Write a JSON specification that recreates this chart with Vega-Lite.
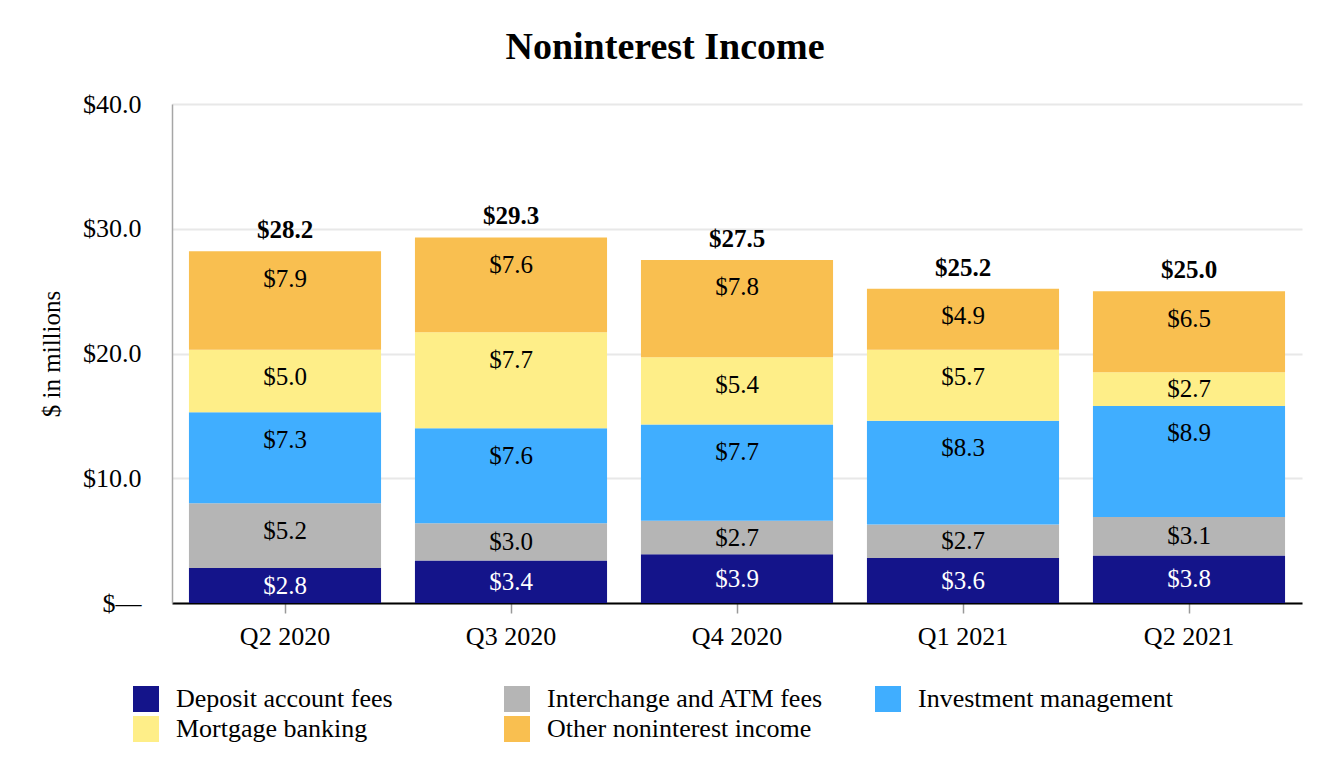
{
  "$schema": "https://vega.github.io/schema/vega-lite/v6.json",
  "autosize": "none",
  "width": 1130,
  "height": 499,
  "padding": {"left": 172, "top": 104, "right": 30, "bottom": 181},
  "background": "white",
  "title": {
    "text": "Noninterest Income",
    "fontSize": 38,
    "fontWeight": "bold",
    "font": "Liberation Serif",
    "color": "black",
    "baseline": "alphabetic",
    "offset": -6,
    "dx": -72
  },
  "data": {
    "values": [
      {"q": "Q2 2020", "cat": "Deposit account fees", "k": 1, "v": 2.8},
      {"q": "Q2 2020", "cat": "Interchange and ATM fees", "k": 2, "v": 5.2},
      {"q": "Q2 2020", "cat": "Investment management", "k": 3, "v": 7.3},
      {"q": "Q2 2020", "cat": "Mortgage banking", "k": 4, "v": 5.0},
      {"q": "Q2 2020", "cat": "Other noninterest income", "k": 5, "v": 7.9},
      {"q": "Q3 2020", "cat": "Deposit account fees", "k": 1, "v": 3.4},
      {"q": "Q3 2020", "cat": "Interchange and ATM fees", "k": 2, "v": 3.0},
      {"q": "Q3 2020", "cat": "Investment management", "k": 3, "v": 7.6},
      {"q": "Q3 2020", "cat": "Mortgage banking", "k": 4, "v": 7.7},
      {"q": "Q3 2020", "cat": "Other noninterest income", "k": 5, "v": 7.6},
      {"q": "Q4 2020", "cat": "Deposit account fees", "k": 1, "v": 3.9},
      {"q": "Q4 2020", "cat": "Interchange and ATM fees", "k": 2, "v": 2.7},
      {"q": "Q4 2020", "cat": "Investment management", "k": 3, "v": 7.7},
      {"q": "Q4 2020", "cat": "Mortgage banking", "k": 4, "v": 5.4},
      {"q": "Q4 2020", "cat": "Other noninterest income", "k": 5, "v": 7.8},
      {"q": "Q1 2021", "cat": "Deposit account fees", "k": 1, "v": 3.6},
      {"q": "Q1 2021", "cat": "Interchange and ATM fees", "k": 2, "v": 2.7},
      {"q": "Q1 2021", "cat": "Investment management", "k": 3, "v": 8.3},
      {"q": "Q1 2021", "cat": "Mortgage banking", "k": 4, "v": 5.7},
      {"q": "Q1 2021", "cat": "Other noninterest income", "k": 5, "v": 4.9},
      {"q": "Q2 2021", "cat": "Deposit account fees", "k": 1, "v": 3.8},
      {"q": "Q2 2021", "cat": "Interchange and ATM fees", "k": 2, "v": 3.1},
      {"q": "Q2 2021", "cat": "Investment management", "k": 3, "v": 8.9},
      {"q": "Q2 2021", "cat": "Mortgage banking", "k": 4, "v": 2.7},
      {"q": "Q2 2021", "cat": "Other noninterest income", "k": 5, "v": 6.5}
    ]
  },
  "encoding": {
    "x": {
      "field": "q",
      "type": "nominal",
      "sort": null,
      "scale": {"paddingInner": 0.15, "paddingOuter": 0.075},
      "axis": {
        "title": null,
        "labelAngle": 0,
        "labelFontSize": 26,
        "labelColor": "black",
        "labelPadding": 10,
        "domainColor": "black",
        "domainWidth": 2,
        "tickColor": "#999999",
        "tickSize": 10,
        "tickWidth": 1.5,
        "grid": false
      }
    }
  },
  "layer": [
    {
      "mark": {"type": "bar"},
      "encoding": {
        "y": {
          "field": "v",
          "type": "quantitative",
          "stack": "zero",
          "scale": {"domain": [0, 40]},
          "axis": {
            "title": "$ in millions",
            "titleFontSize": 25,
            "titleFontWeight": "normal",
            "titleColor": "black",
            "titlePadding": 18,
            "values": [0, 10, 20, 30, 40],
            "labelExpr": "datum.value == 0 ? '$—' : '$' + format(datum.value, '.1f')",
            "labelFontSize": 26,
            "labelColor": "black",
            "labelPadding": 31,
            "ticks": false,
            "tickSize": 0,
            "domainColor": "#A6A6A6",
            "domainWidth": 1.5,
            "grid": true,
            "gridColor": "#E8E8E8",
            "gridWidth": 2
          }
        },
        "color": {
          "field": "cat",
          "type": "nominal",
          "scale": {
            "domain": [
              "Deposit account fees",
              "Interchange and ATM fees",
              "Investment management",
              "Mortgage banking",
              "Other noninterest income"
            ],
            "range": ["#14148A", "#B5B5B5", "#40AEFF", "#FEEE88", "#F9BF50"]
          },
          "legend": {
            "title": null,
            "orient": "none",
            "direction": "horizontal",
            "legendX": -39,
            "legendY": 582,
            "columns": 3,
            "gridAlign": "all",
            "columnPadding": 51,
            "rowPadding": 4,
            "symbolType": "square",
            "symbolSize": 676,
            "symbolStrokeWidth": 0,
            "symbolOpacity": 1,
            "labelFontSize": 26,
            "labelColor": "black",
            "labelOffset": 17,
            "labelLimit": 400
          }
        },
        "order": {"field": "k", "type": "quantitative"}
      }
    },
    {
      "transform": [
        {"stack": "v", "groupby": ["q"], "sort": [{"field": "k"}], "as": ["v0", "v1"]},
        {"calculate": "max((datum.v0 + datum.v1) / 2, datum.v1 - 2.2)", "as": "lab"}
      ],
      "mark": {"type": "text", "fontSize": 25, "baseline": "middle", "align": "center"},
      "encoding": {
        "y": {"field": "lab", "type": "quantitative"},
        "text": {"field": "v", "type": "quantitative", "format": "$.1f"},
        "color": {
          "condition": {"test": "datum.k == 1", "value": "white"},
          "value": "black"
        }
      }
    },
    {
      "transform": [
        {"aggregate": [{"op": "sum", "field": "v", "as": "total"}], "groupby": ["q"]}
      ],
      "mark": {"type": "text", "fontSize": 25, "fontWeight": "bold", "baseline": "middle", "align": "center", "dy": -21, "color": "black"},
      "encoding": {
        "y": {"field": "total", "type": "quantitative"},
        "text": {"field": "total", "type": "quantitative", "format": "$.1f"}
      }
    }
  ],
  "config": {
    "font": "Liberation Serif",
    "view": {"stroke": null}
  }
}
